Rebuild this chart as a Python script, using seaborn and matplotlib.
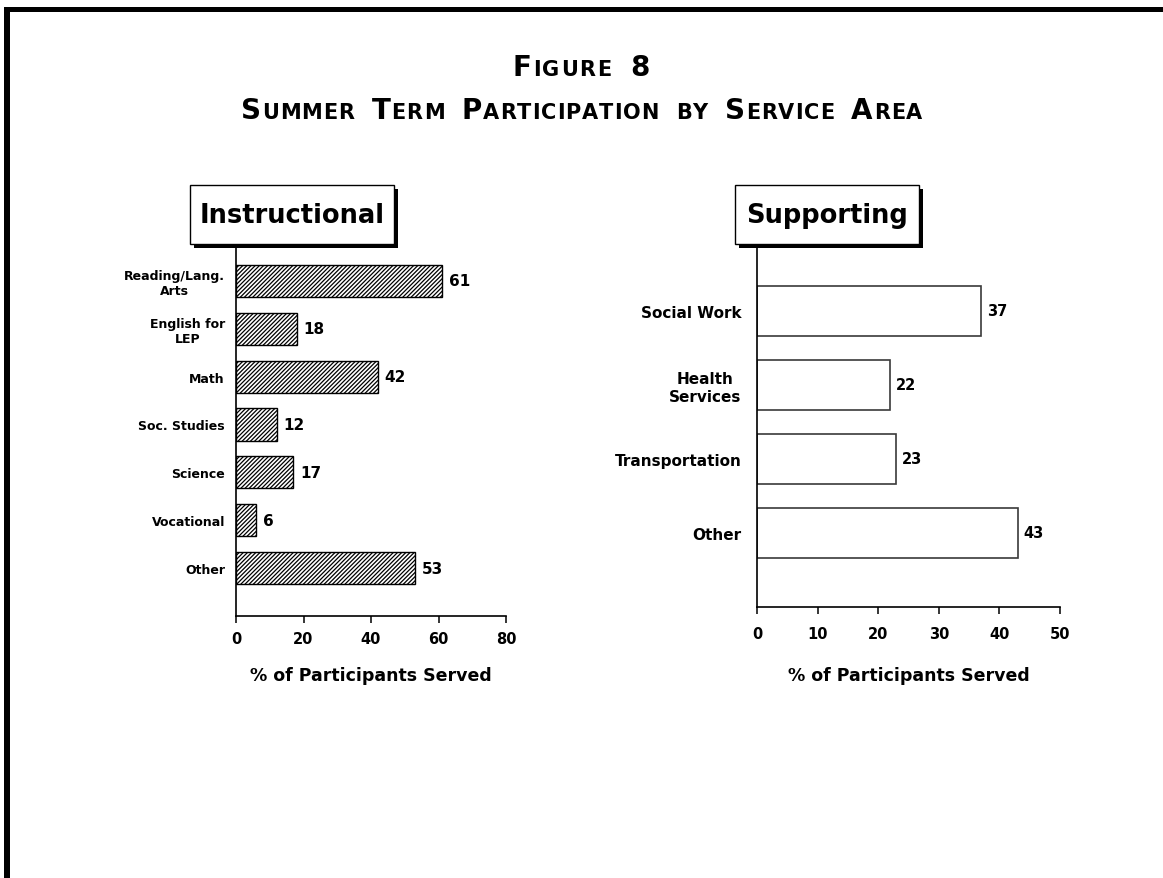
import numpy as np
import pandas as pd
import matplotlib
matplotlib.use("Agg")
import matplotlib.pyplot as plt
from matplotlib.patches import Rectangle
import seaborn as sns

# data
instr_cats = ["Reading/Lang.\nArts", "English for\nLEP", "Math", "Soc. Studies",
              "Science", "Vocational", "Other"]
instr_vals = [61, 18, 42, 12, 17, 6, 53]
instr_ticks = [0, 20, 40, 60, 80]

supp_cats = ["Social Work", "Health\nServices", "Transportation", "Other"]
supp_vals = [37, 22, 23, 43]
supp_ticks = [0, 10, 20, 30, 40, 50]

title_1 = "Figure 8"
title_2 = "Summer Term Participation by Service Area"
xlabel = "% of Participants Served"

W, H = 1163, 879

sns.set_style("ticks")
plt.rcParams['font.family'] = ['DejaVu Sans']
plt.rcParams['hatch.linewidth'] = 0.9
for k in ['text.color', 'axes.labelcolor', 'xtick.color', 'ytick.color', 'axes.edgecolor']:
    plt.rcParams[k] = 'black'

fig = plt.figure(figsize=(W / 100, H / 100), dpi=100)


def px_rect(x0, y0, x1, y1):
    # pixel box (top-left origin) -> figure fraction rect
    return [x0 / W, 1 - y1 / H, (x1 - x0) / W, (y1 - y0) / H]


ax1 = fig.add_axes(px_rect(236, 234, 506, 617))
ax2 = fig.add_axes(px_rect(757, 238, 1060, 608))

# Instructional (hatched bars)
df1 = pd.DataFrame({"area": instr_cats, "pct": instr_vals})
sns.barplot(data=df1, x="pct", y="area", orient="h", ax=ax1, color="white",
            edgecolor="black", linewidth=1.0, hatch="////////", width=0.67)
ax1.set_xlim(0, 80)
ax1.set_ylim(7, -1)
ax1.set_xticks(instr_ticks)
for v, p in zip(instr_vals, ax1.patches):
    ax1.text(v + 2.0, p.get_y() + p.get_height() / 2, str(v), va="center", ha="left",
             fontsize=11, fontweight="bold")
ax1.tick_params(axis="y", length=0, pad=8, labelsize=9)
ax1.tick_params(axis="x", length=5, width=1.1, pad=6, labelsize=10.5, direction="out")
for lab in ax1.get_yticklabels():
    lab.set_fontweight("bold")
    lab.set_multialignment("center")
for lab in ax1.get_xticklabels():
    lab.set_fontweight("bold")
ax1.set_xlabel(xlabel, fontsize=12.5, fontweight="bold", labelpad=14)

# Supporting (open bars)
df2 = pd.DataFrame({"area": supp_cats, "pct": supp_vals})
sns.barplot(data=df2, x="pct", y="area", orient="h", ax=ax2, color="white",
            edgecolor="#3a3a3a", linewidth=1.2, width=0.67)
ax2.set_xlim(0, 50)
ax2.set_ylim(4, -1)
ax2.set_xticks(supp_ticks)
for v, p in zip(supp_vals, ax2.patches):
    ax2.text(v + 0.9, p.get_y() + p.get_height() / 2, str(v), va="center", ha="left",
             fontsize=10.5, fontweight="bold")
ax2.tick_params(axis="y", length=0, pad=11, labelsize=11)
ax2.tick_params(axis="x", length=5, width=1.1, pad=9, labelsize=10.5, direction="out")
for lab in ax2.get_yticklabels():
    lab.set_fontweight("bold")
    lab.set_multialignment("center")
for lab in ax2.get_xticklabels():
    lab.set_fontweight("bold")
ax2.set_xlabel(xlabel, fontsize=12.5, fontweight="bold", labelpad=18)

for ax in (ax1, ax2):
    ax.set_ylabel("")
    sns.despine(ax=ax)
    ax.spines["left"].set_linewidth(1.2)
    ax.spines["bottom"].set_linewidth(1.2)
    ax.set_facecolor("none")

# panel title boxes with drop shadow
for (x0, x1, label) in [(190, 394, "Instructional"), (735, 919, "Supporting")]:
    fig.patches.append(Rectangle((x0 / W + 4 / W, 1 - 249 / H), (x1 - x0) / W, 59 / H,
                                 transform=fig.transFigure, facecolor="black",
                                 edgecolor="none", zorder=5))
    fig.patches.append(Rectangle((x0 / W, 1 - 245 / H), (x1 - x0) / W, 59 / H,
                                 transform=fig.transFigure, facecolor="white",
                                 edgecolor="black", linewidth=1.0, zorder=6))
    fig.text((x0 + x1) / 2 / W, 1 - 216 / H, label, ha="center", va="center",
             fontsize=18.5, fontweight="bold", zorder=7)

# page border (top and left)
fig.patches.append(Rectangle((4 / W, 1 - 13 / H), 1 - 4 / W, 5 / H,
                             transform=fig.transFigure, facecolor="black",
                             edgecolor="none", zorder=5))
fig.patches.append(Rectangle((4 / W, 0), 6 / W, 1 - 8 / H,
                             transform=fig.transFigure, facecolor="black",
                             edgecolor="none", zorder=5))


def small_caps(text, y_px, big, small, gap, track):
    # fake small caps, drawn letter by letter with a little extra tracking
    r = fig.canvas.get_renderer()
    pieces = []
    for i, word in enumerate(text.split(" ")):
        if i > 0:
            pieces.append(None)
        for j, ch in enumerate(word):
            if j == 0 and (ch.isupper() or ch.isdigit()):
                pieces.append((ch, big))
            else:
                pieces.append((ch.upper(), small))
    objs = []
    total = 0
    for pc in pieces:
        if pc is None:
            objs.append(None)
            total += gap
            continue
        t = fig.text(0, 1 - y_px / H, pc[0], fontsize=pc[1], fontweight="bold",
                     ha="left", va="baseline")
        w = t.get_window_extent(r).width + track
        objs.append((t, w))
        total += w
    total -= track
    x = (W - total) / 2
    for o in objs:
        if o is None:
            x += gap
            continue
        o[0].set_x(x / W)
        x += o[1]


small_caps(title_1, 76, 20, 15, 18, 1.5)
small_caps(title_2, 119, 20, 15, 16, 1.0)

fig.savefig("out.png", dpi=100, facecolor="white")
